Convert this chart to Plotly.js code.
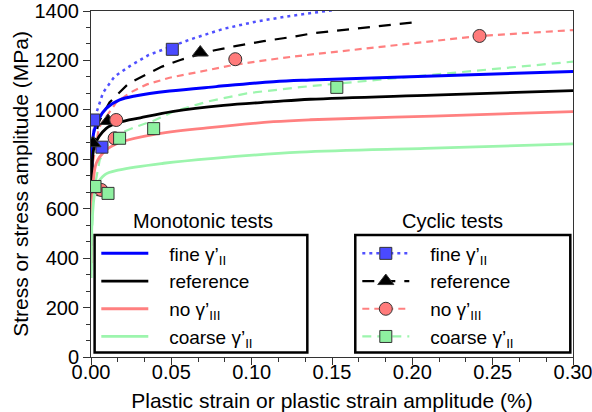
<!DOCTYPE html>
<html><head><meta charset="utf-8">
<script src="https://cdn.plot.ly/plotly-3.0.1.min.js"></script>
<style>html,body{margin:0;padding:0;background:#fff}#chart{width:592px;height:412px}</style>
</head><body><div id="chart"></div>
<script>
// ---- Monotonic tests (solid curves) ----
const monoFineX   = [0.0001, 0.0004, 0.0016, 0.0044, 0.0095, 0.0178, 0.0282, 0.0489, 0.0779, 0.1136, 0.1365, 0.2131, 0.3];
const monoFineY   = [560, 760, 905, 959, 1006, 1040, 1057, 1076, 1094, 1114, 1121, 1137, 1155];
const monoRefX    = [0.0001, 0.0006, 0.0022, 0.0095, 0.0178, 0.0307, 0.0514, 0.0825, 0.1136, 0.1365, 0.2131, 0.3];
const monoRefY    = [450, 700, 855, 925, 950, 968, 994, 1018, 1033, 1043, 1060, 1078];
const monoNoX     = [0.0001, 0.0007, 0.0033, 0.0095, 0.0178, 0.0386, 0.0722, 0.1136, 0.1365, 0.2131, 0.3];
const monoNoY     = [380, 600, 784, 838, 868, 900, 927, 952, 960, 975, 993];
const monoCoarseX = [0.0001, 0.0008, 0.0033, 0.0085, 0.0178, 0.0452, 0.0763, 0.13, 0.2131, 0.3];
const monoCoarseY = [320, 560, 689, 737, 757, 784, 804, 829, 845, 862];

// ---- Cyclic tests (fitted curves) ----
const cycFineX   = [0.0001, 0.0006, 0.0029, 0.0075, 0.0147, 0.0244, 0.0359, 0.0506, 0.0618, 0.0825, 0.1033, 0.124, 0.1365, 0.16];
const cycFineY   = [600, 860, 979, 1070, 1135, 1178, 1222, 1258, 1285, 1328, 1358, 1380, 1391, 1412];
const cycRefX    = [0.0001, 0.001, 0.0048, 0.0115, 0.0236, 0.0359, 0.0442, 0.0556, 0.068, 0.0763, 0.0898, 0.1074, 0.1261, 0.1383, 0.2007];
const cycRefY    = [500, 840, 950, 1030, 1108, 1148, 1175, 1202, 1225, 1240, 1258, 1278, 1296, 1310, 1354];
const cycNoX     = [0.0001, 0.001, 0.005, 0.0157, 0.0244, 0.0348, 0.0489, 0.0697, 0.0898, 0.1178, 0.1344, 0.2418, 0.3];
const cycNoY     = [450, 780, 930, 1030, 1070, 1103, 1130, 1157, 1183, 1209, 1222, 1299, 1323];
const cycCoarseX = [0.0001, 0.0012, 0.0054, 0.0095, 0.0178, 0.0282, 0.0386, 0.0514, 0.0722, 0.097, 0.13, 0.234, 0.3];
const cycCoarseY = [350, 650, 797, 851, 905, 932, 955, 993, 1033, 1067, 1092, 1155, 1195];

// ---- Cyclic test data points ----
const ptFineX   = [0.0022, 0.0068, 0.0017, 0.0506];
const ptFineY   = [689, 849, 959, 1245];
const ptRefX    = [0.0085, 0.0012, 0.0106, 0.068];
const ptRefY    = [667, 865, 955, 1232];
const ptNoX     = [0.0064, 0.0147, 0.0157, 0.0898, 0.2418];
const ptNoY     = [676, 885, 959, 1205, 1299];
const ptCoarseX = [0.0025, 0.0106, 0.0178, 0.039, 0.153];
const ptCoarseY = [690, 662, 885, 924, 1091];

// ---- Labels ----
const seriesNames = ["fine γ’<sub>II</sub>", "reference", "no γ’<sub>III</sub>", "coarse γ’<sub>II</sub>"];
const xTickVals = [0, 0.05, 0.10, 0.15, 0.20, 0.25, 0.30];
const xTickText = ["0.00", "0.05", "0.10", "0.15", "0.20", "0.25", "0.30"];
const yTickVals = [0, 200, 400, 600, 800, 1000, 1200, 1400];
const yTickText = ["0", "200", "400", "600", "800", "1000", "1200", "1400"];
const xTitle = "Plastic strain or plastic strain amplitude (%)";
const yTitle = "Stress or stress amplitude (MPa)";
const legendTitles = ["Monotonic tests", "Cyclic tests"];

const PAD = "\u00A0\u00A0\u00A0";
const BLUE = "#0000ff", BLUE_L = "#5050ff", BLUE_M = "#4a4aff";
const BLACK = "#000000";
const RED = "#ff8080", RED_M = "#ff7b7b";
const GREEN = "#9cf5ad", GREEN_M = "#8ef0a0";
const EDGE = "#333333";

const traces = [];
// cyclic fitted curves
traces.push({x: cycFineX, y: cycFineY, mode: "lines", line: {color: BLUE_L, width: 2.5, dash: "3px,4px"}, showlegend: false, hoverinfo: "skip"});
traces.push({x: cycRefX, y: cycRefY, mode: "lines", line: {color: BLACK, width: 2.2, dash: "12px,9px"}, showlegend: false, hoverinfo: "skip"});
traces.push({x: cycNoX, y: cycNoY, mode: "lines", line: {color: RED, width: 2.2, dash: "7px,5px"}, showlegend: false, hoverinfo: "skip"});
traces.push({x: cycCoarseX, y: cycCoarseY, mode: "lines", line: {color: GREEN, width: 2.2, dash: "9px,6px"}, showlegend: false, hoverinfo: "skip"});
// monotonic curves
traces.push({x: monoFineX, y: monoFineY, mode: "lines", line: {color: BLUE, width: 3, shape: "spline"}, name: PAD + seriesNames[0], legend: "legend"});
traces.push({x: monoRefX, y: monoRefY, mode: "lines", line: {color: BLACK, width: 2.8, shape: "spline"}, name: PAD + seriesNames[1], legend: "legend"});
traces.push({x: monoNoX, y: monoNoY, mode: "lines", line: {color: RED, width: 2.8, shape: "spline"}, name: PAD + seriesNames[2], legend: "legend"});
traces.push({x: monoCoarseX, y: monoCoarseY, mode: "lines", line: {color: GREEN, width: 2.8, shape: "spline"}, name: PAD + seriesNames[3], legend: "legend"});
// cyclic points
const mk = (sym, col, size) => ({symbol: sym, color: col, size: size, line: {color: EDGE, width: 1}});
traces.push({x: ptFineX, y: ptFineY, mode: "markers", marker: mk("square", BLUE_M, 12), showlegend: false});
traces.push({x: ptRefX, y: ptRefY, mode: "markers", marker: mk("triangle-up", BLACK, 14), showlegend: false});
traces.push({x: ptNoX, y: ptNoY, mode: "markers", marker: mk("circle", RED_M, 13), showlegend: false});
traces.push({x: ptCoarseX, y: ptCoarseY, mode: "markers", marker: mk("square", GREEN_M, 12), showlegend: false});
// legend entries for cyclic tests
traces.push({x: [null], y: [null], mode: "lines+markers", line: {color: BLUE_L, width: 2.5, dash: "3px,4px"}, marker: mk("square", BLUE_M, 12), name: PAD + seriesNames[0], legend: "legend2"});
traces.push({x: [null], y: [null], mode: "lines+markers", line: {color: BLACK, width: 2.2, dash: "12px,9px"}, marker: mk("triangle-up", BLACK, 14), name: PAD + seriesNames[1], legend: "legend2"});
traces.push({x: [null], y: [null], mode: "lines+markers", line: {color: RED, width: 2.2, dash: "7px,5px"}, marker: mk("circle", RED_M, 13), name: PAD + seriesNames[2], legend: "legend2"});
traces.push({x: [null], y: [null], mode: "lines+markers", line: {color: GREEN, width: 2.2, dash: "9px,6px"}, marker: mk("square", GREEN_M, 12), name: PAD + seriesNames[3], legend: "legend2"});

const FONT = "Liberation Sans, Arial, Helvetica, sans-serif";
const axisCommon = {
  showline: true, linecolor: EDGE, linewidth: 1, mirror: true,
  showgrid: false, zeroline: false, ticks: "outside", ticklen: 7, tickcolor: EDGE,
  tickfont: {size: 20, color: "#000"}, tickmode: "array", ticklabeloverflow: "allow"
};
const legendCommon = {
  yanchor: "top", xanchor: "left", bgcolor: "rgba(0,0,0,0)", borderwidth: 0,
  font: {size: 19, color: "#000", family: FONT}, itemwidth: 47, tracegroupgap: 0, traceorder: "normal"
};
const layout = {
  width: 592, height: 412,
  margin: {l: 91, r: 19, t: 11, b: 55},
  paper_bgcolor: "#fff", plot_bgcolor: "#fff",
  font: {family: FONT, color: "#000"},
  xaxis: Object.assign({}, axisCommon, {
    range: [0, 0.3], tickvals: xTickVals, ticktext: xTickText, ticklabelstandoff: -10,
    minor: {dtick: 0.05 / 3, tick0: 0, ticks: "outside", ticklen: 4, tickcolor: EDGE},
    title: {text: xTitle, font: {size: 21}, standoff: 15}
  }),
  yaxis: Object.assign({}, axisCommon, {
    range: [0, 1400], tickvals: yTickVals, ticktext: yTickText,
    minor: {dtick: 200 / 3, tick0: 0, ticks: "outside", ticklen: 4, tickcolor: EDGE},
    title: {text: yTitle, font: {size: 21}, standoff: 0}
  }),
  legend: Object.assign({}, legendCommon, {x: 0.011, y: 0.354}),
  legend2: Object.assign({}, legendCommon, {x: 0.5525, y: 0.354}),
  shapes: [
    {type: "rect", xref: "paper", yref: "paper", x0: 0.0075, x1: 0.4488, y0: 0.013, y1: 0.3526, line: {color: "#000", width: 2.5}, layer: "above"},
    {type: "rect", xref: "paper", yref: "paper", x0: 0.5483, x1: 0.9944, y0: 0.013, y1: 0.3526, line: {color: "#000", width: 2.5}, layer: "above"}
  ],
  annotations: [
    {text: legendTitles[0], xref: "paper", yref: "paper", x: 0.233, y: 0.394, xanchor: "center", yanchor: "middle", showarrow: false, font: {size: 20}},
    {text: legendTitles[1], xref: "paper", yref: "paper", x: 0.7496, y: 0.394, xanchor: "center", yanchor: "middle", showarrow: false, font: {size: 20}}
  ]
};
Plotly.newPlot("chart", traces, layout, {displayModeBar: false, staticPlot: true});
</script>
</body></html>
